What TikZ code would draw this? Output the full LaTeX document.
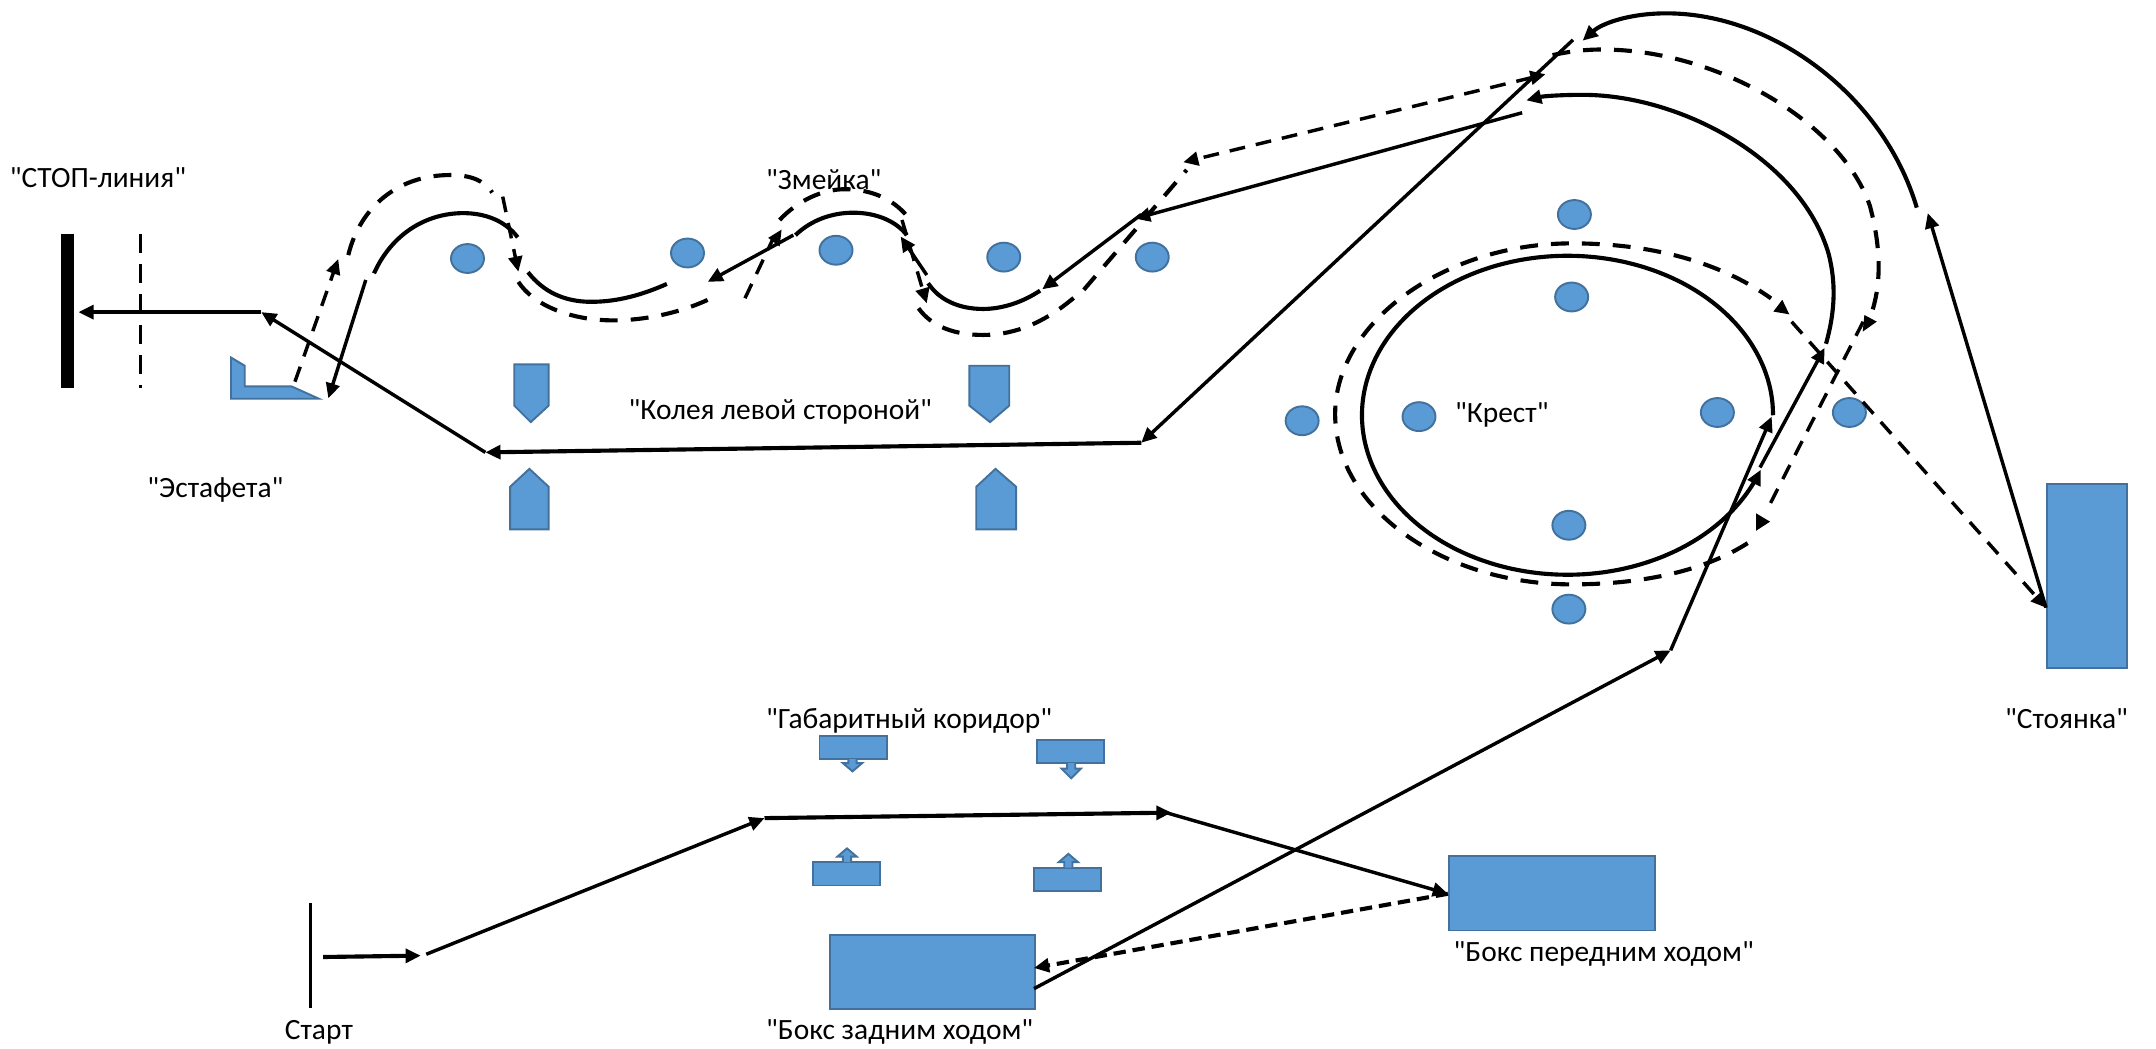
\documentclass[tikz,border=0pt]{standalone}
\usepackage{fontspec}
\newfontfamily\lblfont{Carlito}
\usetikzlibrary{arrows.meta,shapes.geometric}
\definecolor{fillblue}{HTML}{5B9BD5}
\definecolor{edgeblue}{HTML}{41719C}
\tikzset{
  shapeblue/.style={fill=fillblue,draw=edgeblue,line width=1.4pt,line join=miter},
  cone/.style={shapeblue,ellipse,inner sep=0pt,minimum width=24pt,minimum height=21pt},
  boxblue/.style={shapeblue,rectangle,inner sep=0pt,anchor=north west},
  lbl/.style={inner sep=0pt,font=\lblfont\fontsize{21.4}{24}\selectfont,anchor=west,text=black},
  tip/.style={-{Triangle[length=11pt,width=10pt]}},
  tips/.style={{Triangle[length=11pt,width=10pt]}-{Triangle[length=11pt,width=10pt]}},
  straight/.style={draw=black,line width=2.5pt,tip},
  bold/.style={draw=black,line width=3pt,tip},
  curve/.style={draw=black,line width=3pt},
  headtri/.style={fill=black},
  dashes/.style={dash pattern=on 13pt off 9.5pt},
  dashthin/.style={dash pattern=on 11.5pt off 8pt}
}
\begin{document}
\begin{tikzpicture}[x=1pt,y=-1pt]
\useasboundingbox (0,0) rectangle (1568,762.2);
% bars
\fill[black] (44,170) rectangle (54,282);
\draw[black,line width=2.4pt,dash pattern=on 14pt off 8pt] (102,170) -- (102,282);
\draw[black,line width=2.4pt] (226,657) -- (226,733);
% corner shape
\draw[shapeblue] (168,260) -- (178,266) -- (178,281) -- (212,281) -- (232,290) -- (168,290) -- cycle;
% pentagons
\draw[shapeblue] (374,265) -- (399,265) -- (399,295) -- (386,307) -- (374,295) -- cycle;
\draw[shapeblue] (705,266) -- (734,266) -- (734,295) -- (720,307) -- (705,295) -- cycle;
\draw[shapeblue] (371,385) -- (399,385) -- (399,354) -- (385,341) -- (371,354) -- cycle;
\draw[shapeblue] (710,385) -- (739,385) -- (739,354) -- (724,341) -- (710,354) -- cycle;
% cones
\node[cone] (c1) at (340,188) {};
\node[cone] (c2) at (500,184) {};
\node[cone] (c3) at (608,182) {};
\node[cone] (c4) at (730,187) {};
\node[cone] (c5) at (838,187) {};
\node[cone] (c6) at (1145,156) {};
\node[cone] (c7) at (1143,216) {};
\node[cone] (c8) at (947,306) {};
\node[cone] (c9) at (1032,303) {};
\node[cone] (c10) at (1249,300) {};
\node[cone] (c11) at (1345,300) {};
\node[cone] (c12) at (1141,382) {};
\node[cone] (c13) at (1141,443) {};
% boxes
\node[boxblue,minimum width=58pt,minimum height=134pt] (park) at (1488,351) {};
\node[boxblue,minimum width=150pt,minimum height=54pt] (boxfront) at (1053,622) {};
\node[boxblue,minimum width=149pt,minimum height=54pt] (boxback) at (603,679) {};
% corridor markers
\draw[shapeblue] (596,535) rectangle (645,552);
\draw[shapeblue] (617,552) -- (617,555) -- (613,555) -- (620,561) -- (627,555) -- (623,555) -- (623,552);
\draw[shapeblue] (754,538) rectangle (803,555);
\draw[shapeblue] (776,555) -- (776,559) -- (772,559) -- (779,566) -- (786,559) -- (782,559) -- (782,555);
\draw[shapeblue] (591,627) rectangle (640,644);
\draw[shapeblue] (613,627) -- (613,623) -- (609,623) -- (616,617) -- (623,623) -- (619,623) -- (619,627);
\draw[shapeblue] (752,631) rectangle (801,648);
\draw[shapeblue] (774,631) -- (774,627) -- (770,627) -- (777,621) -- (784,627) -- (780,627) -- (780,631);
% way points
\coordinate (st0) at (235,696);
\coordinate (st1) at (306,695);
\coordinate (g0) at (310,694);
\coordinate (g1) at (556,595);
\coordinate (g2) at (852,591);
\coordinate (g2b) at (848,591);
\coordinate (bf) at (1053,650);
\coordinate (bb) at (752,704);
\coordinate (bbo) at (752,719);
\coordinate (a1) at (1215,473);
\coordinate (a2) at (1288.5,303);
\coordinate (e1) at (1280,340);
\coordinate (e2) at (1327,253);
\coordinate (t1) at (1107,82);
\coordinate (t2) at (825.5,159);
\coordinate (t2b) at (830,156);
\coordinate (t3) at (758,210.4);
\coordinate (k1) at (1144,29);
\coordinate (k2) at (830,322);
\coordinate (k3) at (353,329);
\coordinate (r1) at (190,227);
\coordinate (r2) at (57,227);
\coordinate (d1) at (860.5,118);
\coordinate (d2) at (1124,54);
\coordinate (d3) at (1303,234);
\coordinate (d4) at (1488,442);
\coordinate (d5) at (1355,234);
\coordinate (d6) at (1285,371);
\coordinate (p1) at (1402,155);
\coordinate (z1) at (577,171);
\coordinate (z2) at (514.7,205);
\coordinate (z3) at (674,200);
\coordinate (z4) at (655,172);
\coordinate (z5) at (266,203.6);
\coordinate (z6) at (238.8,289.7);
\coordinate (y1) at (214.5,277.6);
\coordinate (y2) at (246,188.4);
\coordinate (y3) at (365.6,143);
\coordinate (y4) at (377,197.6);
\coordinate (y5) at (541.8,216.9);
\coordinate (y6) at (563,172);
\coordinate (y7) at (656,160);
\coordinate (y8) at (674,220.6);
% straight solid
\path[bold] (st0) -- (st1);
\path[straight] (g0) -- (g1);
\path[bold] (g1) -- (g2);
\path[straight] (g2b) -- (bf);
\path[straight] (bbo) -- (a1);
\path[straight] (a1) -- (a2);
\path[straight] (e1) -- (e2);
\path[straight] (t1) -- (t2);
\path[straight] (t2b) -- (t3);
\path[straight] (k1) -- (k2);
\path[bold] (k2) -- (k3);
\path[straight] (k3) -- (r1);
\path[bold] (r1) -- (r2);
\path[straight] (d4) -- (p1);
\path[straight] (z1) -- (z2);
\path[straight] (z3) -- (z4);
\path[straight] (z5) -- (z6);
% straight dashed
\path[bold,dash pattern=on 9pt off 5pt] (bf) -- (bb);
\path[straight,dashthin,tips] (d2) -- (d1);
\path[straight,dashthin,tip] (d3) -- (d4);
\path[draw=black,line width=2.5pt,dashthin] (d5) -- (d6);
\path[straight,dashthin] (y1) -- (y2);
\path[straight,dashthin] (y3) -- (y4);
\path[draw=black,line width=2.5pt,dashthin] (y5) -- (y6);
\path[straight,dashthin] (y7) -- (y8);
% free-standing arrow heads
\fill[headtri] (1296.2,218) -- (1289.7,226.6) -- (1301.3,228.6) -- cycle;
\fill[headtri] (1355.9,229.1) -- (1364.9,233.9) -- (1354.7,241.2) -- cycle;
\fill[headtri] (1277.1,373.3) -- (1287.3,379.4) -- (1277.1,386) -- cycle;
\fill[headtri] (568.4,167) -- (558.7,173) -- (567,179.3) -- cycle;
% curves solid
\draw[curve] (272,198.8) .. controls (285,170) and (310,155) .. (337,155) .. controls (352,155) and (367,160) .. (376.5,172.6);
\draw[curve] (384,198) .. controls (395,212) and (410,219.5) .. (430,219.5) .. controls (450,219.5) and (468,214) .. (485,206.5);
\draw[curve] (578.5,171) .. controls (590,160) and (605,154.7) .. (620.6,154.7) .. controls (636,154.7) and (651,160) .. (659.5,171);
\draw[curve] (675,206) .. controls (683,218) and (697,224.7) .. (715,224.7) .. controls (730,224.7) and (745,219) .. (756.4,211.4);
\draw[curve,tip] plot[smooth,domain=0:340,samples=80] ({1140+149.5*cos(\x)},{302-116*sin(\x)});
\draw[curve,tip] (1328,250) .. controls (1335,225) and (1335,205) .. (1330,185) .. controls (1310,115) and (1220,68) .. (1149,69) .. controls (1135,69) and (1122,70) .. (1110,73);
\draw[curve,tip] (1394,151) .. controls (1370,70) and (1290,9.7) .. (1212,9.7) .. controls (1185,9.7) and (1165,17) .. (1151,29.6);
% curves dashed
\draw[curve,dashes] (253.3,185.5) .. controls (262,150) and (290,127.3) .. (327.3,127.3) .. controls (342,127.3) and (352,131) .. (358,140);
\draw[curve,dashes] (377,205) .. controls (388,222) and (415,233) .. (446,233) .. controls (470,233) and (498,227) .. (521,215);
\draw[curve,dashes] (567,160) .. controls (580,146) and (598,137.6) .. (614.5,137.6) .. controls (635,137.6) and (652,146) .. (661.8,160);
\draw[curve,dashes] (668,224.2) .. controls (678,238) and (695,243.6) .. (715,243.6) .. controls (740,243.6) and (760,233) .. (776,220.6) -- (788,211) -- (863,123.6);
\draw[curve,dashes] (1271,395) .. controls (1240,415) and (1195,425) .. (1143,425) .. controls (1050,425) and (971,370) .. (971,301) .. controls (971,235) and (1050,177) .. (1143,177) .. controls (1200,177) and (1250,190) .. (1288,217);
\draw[curve,dashes] (1362,225) .. controls (1368,205) and (1368,180) .. (1360,150) .. controls (1340,90) and (1250,36) .. (1165,36) .. controls (1150,36) and (1138,38) .. (1125,41);
% labels
\node[lbl] (l1) at (7,129.5) {"СТОП-линия"};
\node[lbl] (l2) at (557,130.5) {"Змейка"};
\node[lbl] (l3) at (457,299.5) {"Колея левой стороной"};
\node[lbl] (l4) at (107,356.5) {"Эстафета"};
\node[lbl] (l5) at (1058,301.5) {"Крест"};
\node[lbl] (l6) at (557,524.5) {"Габаритный коридор"};
\node[lbl] (l7) at (1458,522.5) {"Стоянка"};
\node[lbl] (l8) at (1057,693.5) {"Бокс передним ходом"};
\node[lbl] (l9) at (557,750.5) {"Бокс задним ходом"};
\node[lbl] (l10) at (207,750.5) {Старт};
\end{tikzpicture}
\end{document}
